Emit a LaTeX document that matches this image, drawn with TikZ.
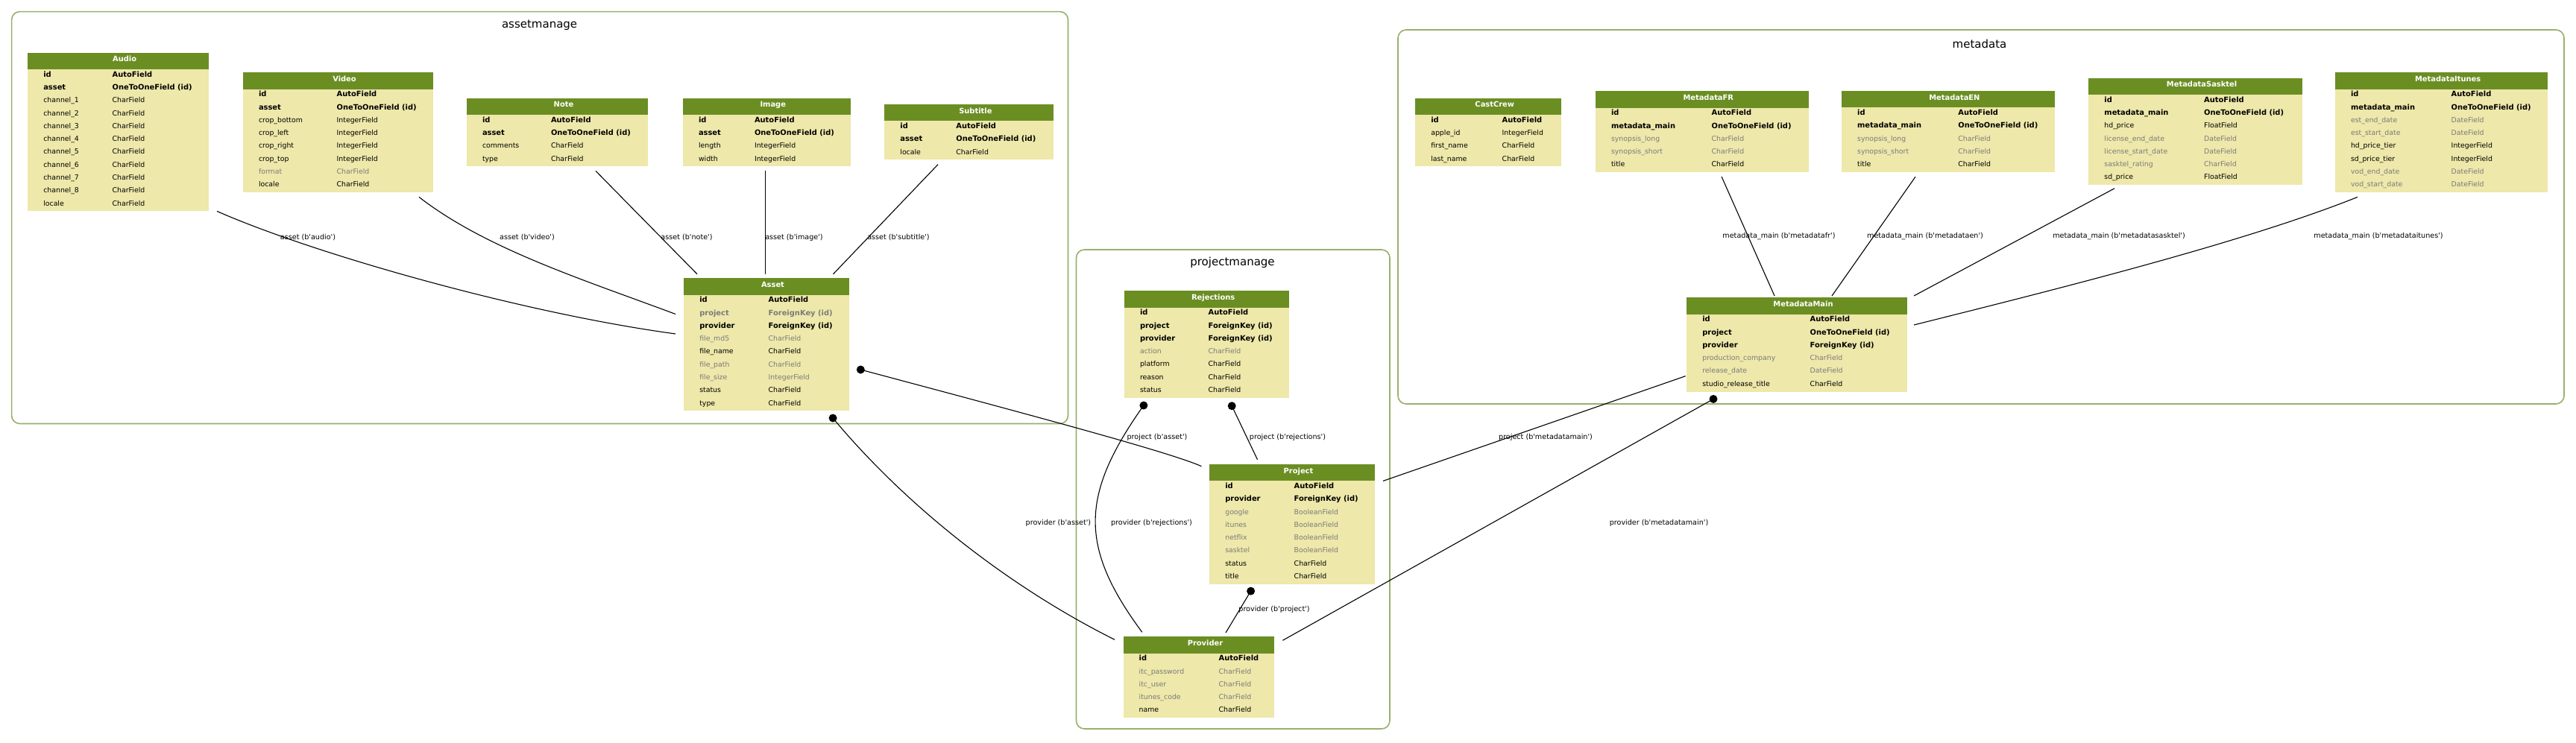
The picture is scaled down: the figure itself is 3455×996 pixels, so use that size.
\documentclass[tikz,border=0pt]{standalone}
\usepackage{fontspec}
\setmainfont{DejaVu Sans}
\usetikzlibrary{calc}
\definecolor{hdrgreen}{HTML}{6B8E23}
\definecolor{bodyyellow}{HTML}{EEE8AA}
\definecolor{graytext}{HTML}{7B7B7B}
\definecolor{clustergreen}{HTML}{98B06A}
\newcommand\sq{\textquotesingle}
\tikzset{
 hdr/.style={fill=hdrgreen, draw=none, minimum height=22.4pt, inner sep=0pt, outer sep=0pt},
 bodybox/.style={fill=bodyyellow, draw=none, inner sep=0pt, outer sep=0pt},
 cell/.style={inner sep=0pt, outer sep=0pt, font=\fontsize{9.35}{11}\selectfont},
 fb/.style={font=\fontsize{9.9}{11}\selectfont\bfseries, text=black},
 fn/.style={text=black},
 fg/.style={text=graytext},
 fG/.style={font=\fontsize{9.9}{11}\selectfont\bfseries, text=graytext},
 ttl/.style={inner sep=0pt, font=\fontsize{9.9}{11}\selectfont\bfseries, text=white},
 rel/.style={draw=black, line width=1.1pt},
 fkdot/.style={circle, fill=black, inner sep=0pt, minimum size=11pt},
 elabel/.style={inner sep=0pt, font=\fontsize{9.6}{11}\selectfont},
 cluster/.style={draw=clustergreen, line width=1.6pt, rounded corners=11pt},
 ctitle/.style={inner sep=0pt, font=\fontsize{15}{18}\selectfont},
}
% #1 name, #2 left, #3 top, #4 width, #5 col2 offset, #6 title, #7 rows, #8 list
\newcommand\mtable[8]{%
 \node[hdr, minimum width=#4pt, anchor=north west] (#1-h) at (#2,#3) {};
 \node[ttl, anchor=base] (#1-t) at ({#2+#4/2+8.5},{#3+12}) {#6};
 \node[bodybox, minimum width=#4pt, minimum height={#7*17.3pt}, anchor=north west] (#1) at ({#2},{#3+22.4}) {};
 \foreach \rs/\rn/\rt [count=\ri from 0] in {#8} {
   \node[cell, f\rs, anchor=base west] (#1-a\ri) at ({#2+21},{#3+22.4+10+\ri*17.3}) {\rn};
   \node[cell, f\rs, anchor=base west] (#1-b\ri) at ({#2+#5},{#3+22.4+10+\ri*17.3}) {\rt};
 }%
}
\begin{document}
\begin{tikzpicture}[x=1pt,y=-1pt]
\fill[white] (0,0) rectangle (3455,996);
\useasboundingbox (0,0) rectangle (3455,996);
% clusters
\draw[cluster] (15.6,15.6) rectangle (1432.5,568.5);
\draw[cluster] (1443.5,335) rectangle (1864,978);
\draw[cluster] (1875,40) rectangle (3439,542);
\node[ctitle] (c1) at (723.6,34) {assetmanage};
\node[ctitle] (c2) at (1653,352) {projectmanage};
\node[ctitle] (c3) at (2655,59) {metadata};
% tables
\mtable{audio}{37.3}{70.7}{242.7}{113.4}{Audio}{11}{b/id/AutoField, b/asset/OneToOneField (id), n/channel\_1/CharField, n/channel\_2/CharField, n/channel\_3/CharField, n/channel\_4/CharField, n/channel\_5/CharField, n/channel\_6/CharField, n/channel\_7/CharField, n/channel\_8/CharField, n/locale/CharField}
\mtable{video}{326}{97.3}{255}{125.7}{Video}{8}{b/id/AutoField, b/asset/OneToOneField (id), n/crop\_bottom/IntegerField, n/crop\_left/IntegerField, n/crop\_right/IntegerField, n/crop\_top/IntegerField, g/format/CharField, n/locale/CharField}
\mtable{note}{626}{131.7}{243}{113}{Note}{4}{b/id/AutoField, b/asset/OneToOneField (id), n/comments/CharField, n/type/CharField}
\mtable{image}{916}{131.7}{224.5}{96}{Image}{4}{b/id/AutoField, b/asset/OneToOneField (id), n/length/IntegerField, n/width/IntegerField}
\mtable{subtitle}{1186.4}{140}{227}{96}{Subtitle}{3}{b/id/AutoField, b/asset/OneToOneField (id), n/locale/CharField}
\mtable{asset}{917.3}{373.3}{221.4}{113.4}{Asset}{9}{b/id/AutoField, G/project/ForeignKey (id), b/provider/ForeignKey (id), g/file\_md5/CharField, n/file\_name/CharField, g/file\_path/CharField, g/file\_size/IntegerField, n/status/CharField, n/type/CharField}
\mtable{rejections}{1508}{390.3}{221.3}{112.7}{Rejections}{7}{b/id/AutoField, b/project/ForeignKey (id), b/provider/ForeignKey (id), g/action/CharField, n/platform/CharField, n/reason/CharField, n/status/CharField}
\mtable{project}{1622.3}{623}{221.4}{113.4}{Project}{8}{b/id/AutoField, b/provider/ForeignKey (id), g/google/BooleanField, g/itunes/BooleanField, g/netflix/BooleanField, g/sasktel/BooleanField, n/status/CharField, n/title/CharField}
\mtable{provider}{1506.7}{854.3}{202.6}{128}{Provider}{5}{b/id/AutoField, g/itc\_password/CharField, g/itc\_user/CharField, g/itunes\_code/CharField, n/name/CharField}
\mtable{castcrew}{1898.3}{131.7}{195.9}{116.4}{CastCrew}{4}{b/id/AutoField, n/apple\_id/IntegerField, n/first\_name/CharField, n/last\_name/CharField}
\mtable{metafr}{2140}{122.3}{285.5}{155.6}{MetadataFR}{5}{b/id/AutoField, b/metadata\_main/OneToOneField (id), g/synopsis\_long/CharField, g/synopsis\_short/CharField, n/title/CharField}
\mtable{metaen}{2470.1}{122}{285.5}{156.3}{MetadataEN}{5}{b/id/AutoField, b/metadata\_main/OneToOneField (id), g/synopsis\_long/CharField, g/synopsis\_short/CharField, n/title/CharField}
\mtable{sasktel}{2801.4}{104.7}{286.4}{154.7}{MetadataSasktel}{7}{b/id/AutoField, b/metadata\_main/OneToOneField (id), n/hd\_price/FloatField, g/license\_end\_date/DateField, g/license\_start\_date/DateField, g/sasktel\_rating/CharField, n/sd\_price/FloatField}
\mtable{itunes}{3132}{97.3}{285.3}{155.7}{MetadataItunes}{8}{b/id/AutoField, b/metadata\_main/OneToOneField (id), g/est\_end\_date/DateField, g/est\_start\_date/DateField, n/hd\_price\_tier/IntegerField, n/sd\_price\_tier/IntegerField, g/vod\_end\_date/DateField, g/vod\_start\_date/DateField}
\mtable{mmain}{2262.3}{399.3}{295.4}{165.4}{MetadataMain}{6}{b/id/AutoField, b/project/OneToOneField (id), b/provider/ForeignKey (id), g/production\_company/CharField, g/release\_date/DateField, n/studio\_release\_title/CharField}
% one-to-one edges (no ends)
\draw[rel] ($(audio.south west)+(253.7,0)$) .. controls +(129,57) and +(-206,-28) .. ($(asset.north west)+(-11.3,52.3)$);
\draw[rel] ($(video.south west)+(236,6.3)$) .. controls +(90,70) and +(-120,-45) .. ($(asset.north west)+(-11.3,25.8)$);
\draw[rel] ($(note.south west)+(173,6.1)$) -- ($(asset-h.north west)+(17.7,-5.5)$);
\draw[rel] ($(image.south west)+(110.6,6.1)$) -- ($(asset-h.north west)+(109.3,-5.5)$);
\draw[rel] ($(subtitle.south west)+(71.6,6.4)$) -- ($(asset-h.north west)+(200.2,-5.5)$);
\draw[rel] ($(metafr.south west)+(169,5.8)$) -- ($(mmain-h.north west)+(117.7,-2.3)$);
\draw[rel] ($(metaen.south west)+(98.9,6.3)$) -- ($(mmain-h.north west)+(194.7,-2.3)$);
\draw[rel] ($(sasktel.south west)+(34.6,4.6)$) -- ($(mmain-h.north east)+(9.3,-2.3)$);
\draw[rel] ($(itunes.south west)+(30,6.3)$) .. controls +(-150,60) and +(200,-50) .. ($(mmain-h.south east)+(9.3,14.3)$);
\draw[rel] ($(mmain.south west)+(-1.6,-20.9)$) -- ($(project-h.south east)+(11.3,0)$);
% foreign keys (dot ends)
\node[fkdot] (d1) at ($(asset.north east)+(15.6,100.3)$) {};
\draw[rel] (d1.center) .. controls +(240,64) and +(-40,-18) .. ($(project-h.north west)+(-10.9,2.7)$);
\node[fkdot] (d2) at ($(asset.south west)+(199.8,9.6)$) {};
\draw[rel] (d2.center) .. controls +(100,120) and +(-140,-70) .. ($(provider-h.north west)+(-11.7,4)$);
\node[fkdot] (d3) at ($(rejections.south west)+(144.2,10.9)$) {};
\draw[rel] (d3.center) -- ($(project-h.north west)+(64.2,-6.3)$);
\node[fkdot] (d4) at ($(rejections.south west)+(25.9,10.2)$) {};
\draw[rel] (d4.center) .. controls +(-85,120) and +(-85,-115) .. ($(provider-h.north west)+(25.1,-6)$);
\node[fkdot] (d5) at ($(project.south west)+(55.3,9.3)$) {};
\draw[rel] (d5.center) -- ($(provider-h.north west)+(137.3,-5.3)$);
\node[fkdot] (d6) at ($(mmain.south west)+(35.7,9.9)$) {};
\draw[rel] (d6.center) -- ($(provider-h.north east)+(11.1,5)$);
% labels
\node[elabel] (l1) at (413,318.5) {asset (b\sq audio\sq)};
\node[elabel] (l2) at (707,318.5) {asset (b\sq video\sq)};
\node[elabel] (l3) at (921,318.5) {asset (b\sq note\sq)};
\node[elabel] (l4) at (1065,318.5) {asset (b\sq image\sq)};
\node[elabel] (l5) at (1205,318.5) {asset (b\sq subtitle\sq)};
\node[elabel] (l6) at (1552,586.7) {project (b\sq asset\sq)};
\node[elabel] (l7) at (1419.4,702.3) {provider (b\sq asset\sq)};
\node[elabel] (l8) at (1727,586.7) {project (b\sq rejections\sq)};
\node[elabel] (l9) at (1544.5,702.3) {provider (b\sq rejections\sq)};
\node[elabel] (l10) at (1709,818.3) {provider (b\sq project\sq)};
\node[elabel] (l11) at (2073,586.7) {project (b\sq metadatamain\sq)};
\node[elabel] (l12) at (2225,702.3) {provider (b\sq metadatamain\sq)};
\node[elabel] (l13) at (2386,317) {metadata\_main (b\sq metadatafr\sq)};
\node[elabel] (l14) at (2582,317) {metadata\_main (b\sq metadataen\sq)};
\node[elabel] (l15) at (2842,317) {metadata\_main (b\sq metadatasasktel\sq)};
\node[elabel] (l16) at (3190,317) {metadata\_main (b\sq metadataitunes\sq)};
\end{tikzpicture}
\end{document}
